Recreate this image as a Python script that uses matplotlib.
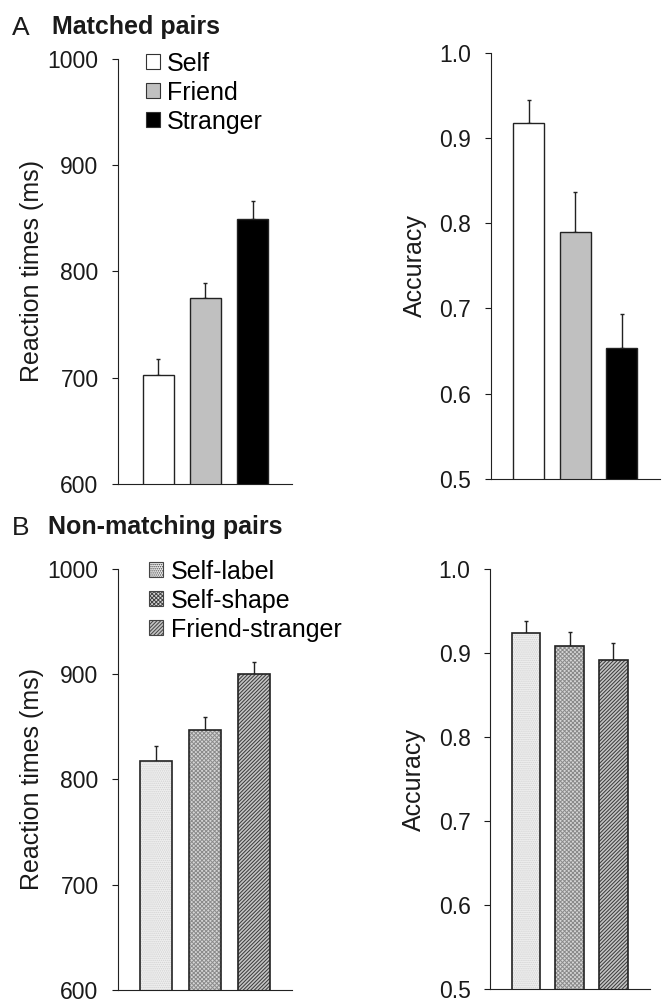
import numpy as np
import matplotlib
matplotlib.use("Agg")
import matplotlib.pyplot as plt
from matplotlib.patches import Patch

plt.rcParams["font.family"] = ["Liberation Sans", "DejaVu Sans"]
plt.rcParams["hatch.linewidth"] = 0.7

# Panel A: matched pairs
matched_labels = ["Self", "Friend", "Stranger"]
matched_rt = [703, 775, 849]
matched_rt_err = [15, 14, 17]
matched_acc = [0.918, 0.790, 0.654]
matched_acc_err = [0.027, 0.046, 0.040]

# Panel B: non-matching pairs
nonmatch_labels = ["Self-label", "Self-shape", "Friend-stranger"]
nonmatch_rt = [817, 847, 900]
nonmatch_rt_err = [15, 12, 12]
nonmatch_acc = [0.924, 0.909, 0.892]
nonmatch_acc_err = [0.014, 0.016, 0.020]

matched_colors = ["white", "#c0c0c0", "black"]
nonmatch_styles = [
    ("#efefef", "........", "#d2d2d2"),
    ("#d6d6d6", "xxxxxxxx", "#8a8a8a"),
    ("#c4c4c4", "/////////", "#383838"),
]

TEXT = "#1a1a1a"
BAR_W = 0.66

fig = plt.figure(figsize=(6.66, 10.01), dpi=100)


def style_axes(ax, ylim, ticks, ticklabels, ylabel, xlim, labelpad):
    ax.set_ylim(*ylim)
    ax.set_xlim(*xlim)
    ax.set_yticks(ticks)
    ax.set_yticklabels(ticklabels)
    ax.set_xticks([])
    for side in ["top", "right"]:
        ax.spines[side].set_visible(False)
    for side in ["left", "bottom"]:
        ax.spines[side].set_linewidth(0.8)
        ax.spines[side].set_color("#222222")
    ax.tick_params(axis="y", direction="out", length=4, width=0.8,
                   pad=10, labelsize=16.5, colors=TEXT)
    ax.set_ylabel(ylabel, fontsize=18, color=TEXT, labelpad=labelpad)


def matched_bars(ax, values, errs):
    x = np.arange(len(values))
    ax.bar(x, values, width=BAR_W, color=matched_colors, edgecolor="#222222",
           linewidth=1.0, zorder=2)
    ax.errorbar(x, values, yerr=[np.zeros(len(errs)), errs], fmt="none",
                ecolor="#222222", elinewidth=1.0, capsize=1.5, capthick=1.0, zorder=1)


def nonmatch_bars(ax, values, errs):
    x = np.arange(len(values))
    for xi, v, (fc, hatch, hc) in zip(x, values, nonmatch_styles):
        ax.bar(xi, v, width=BAR_W, color=fc, hatch=hatch, edgecolor=hc,
               linewidth=0, zorder=2)
        ax.bar(xi, v, width=BAR_W, fill=False, edgecolor="#222222",
               linewidth=1.2, zorder=3)
    ax.errorbar(x, values, yerr=[np.zeros(len(errs)), errs], fmt="none",
                ecolor="#222222", elinewidth=1.0, capsize=1.5, capthick=1.0, zorder=1)


rt_ticks = [600, 700, 800, 900, 1000]
acc_ticks = [0.5, 0.6, 0.7, 0.8, 0.9, 1.0]
acc_ticklabels = ["0.5", "0.6", "0.7", "0.8", "0.9", "1.0"]

# A, reaction times
ax1 = fig.add_axes([0.1772, 0.5165, 0.2613, 0.4246])
matched_bars(ax1, matched_rt, matched_rt_err)
style_axes(ax1, (600, 1000), rt_ticks, [str(t) for t in rt_ticks],
           "Reaction times (ms)", (-0.86, 2.84), 2.5)
handles = [Patch(facecolor=c, edgecolor="#333333", linewidth=0.8) for c in matched_colors]
ax1.legend(handles, matched_labels, loc="upper left", bbox_to_anchor=(0.16, 1.017),
           frameon=False, fontsize=18, handlelength=0.55, handleheight=0.55,
           handletextpad=0.3, labelspacing=0.2, borderaxespad=0, borderpad=0)

# A, accuracy
ax2 = fig.add_axes([0.7368, 0.5215, 0.254, 0.4259])
matched_bars(ax2, matched_acc, matched_acc_err)
style_axes(ax2, (0.5, 1.0), acc_ticks, acc_ticklabels, "Accuracy", (-0.82, 2.82), 9)

# B, reaction times
ax3 = fig.add_axes([0.1772, 0.0113, 0.2613, 0.4203])
nonmatch_bars(ax3, nonmatch_rt, nonmatch_rt_err)
style_axes(ax3, (600, 1000), rt_ticks, [str(t) for t in rt_ticks],
           "Reaction times (ms)", (-0.79, 2.79), 2.5)
handles = [Patch(facecolor=fc, hatch=h, edgecolor="#444444", linewidth=0.8)
           for fc, h, hc in nonmatch_styles]
ax3.legend(handles, nonmatch_labels, loc="upper left", bbox_to_anchor=(0.18, 1.022),
           frameon=False, fontsize=18, handlelength=0.55, handleheight=0.55,
           handletextpad=0.3, labelspacing=0.2, borderaxespad=0, borderpad=0)

# B, accuracy
ax4 = fig.add_axes([0.7357, 0.0120, 0.2400, 0.4193])
nonmatch_bars(ax4, nonmatch_acc, nonmatch_acc_err)
style_axes(ax4, (0.5, 1.0), acc_ticks, acc_ticklabels, "Accuracy", (-0.83, 2.84), 9)

# panel headings
fig.text(12 / 666, 1 - 35 / 1001, "A", fontsize=19, color=TEXT)
fig.text(52 / 666, 1 - 34 / 1001, "Matched pairs", fontsize=18,
         fontweight="bold", color=TEXT)
fig.text(12 / 666, 1 - 535 / 1001, "B", fontsize=19, color=TEXT)
fig.text(48 / 666, 1 - 534 / 1001, "Non-matching pairs", fontsize=18,
         fontweight="bold", color=TEXT)

fig.savefig("out.png", dpi=100)
